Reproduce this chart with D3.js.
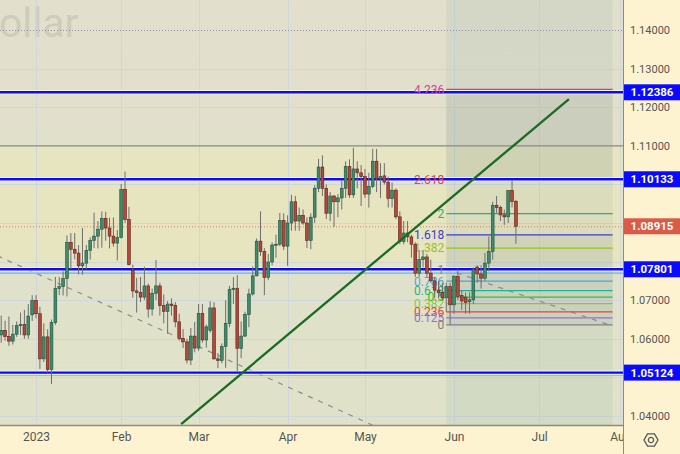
<!DOCTYPE html>
<html>
<head>
<meta charset="utf-8">
<script src="https://cdn.jsdelivr.net/npm/d3@7"></script>
<style>
body{margin:0;background:#fdf3d0;}
svg{display:block;font-family:Roboto,"Liberation Sans",sans-serif;}
</style>
</head>
<body>
<div id="chart"></div>
<script>
// EUR/USD daily, 20 Dec 2022 .. 23 Jun 2023 (one bar per weekday)
var firstDay = "2022-12-20";
var opens = [
 1.0610,1.0622,1.0606,1.0594,1.0612,1.0634,1.0637,1.0610,1.0662,
 1.0699,1.0665,1.0548,1.0605,1.0520,1.0642,1.0730,1.0735,1.0756,1.0850,1.0832,1.0822,1.0789,1.0796,1.0829,1.0855,1.0866,1.0884,1.0912,1.0887,1.0866,1.0848,
 1.0862,1.0987,1.0909,1.0778,1.0724,1.0720,1.0708,1.0737,1.0677,1.0718,1.0737,1.0686,1.0671,1.0690,1.0686,1.0644,1.0601,1.0592,1.0545,1.0607,
 1.0576,1.0666,1.0597,1.0622,1.0680,1.0548,1.0544,1.0580,1.0640,1.0728,1.0731,1.0575,1.0607,1.0663,1.0716,1.0763,1.0853,1.0826,1.0759,1.0799,1.0843,1.0845,1.0906,
 1.0840,1.0900,1.0955,1.0905,1.0920,1.0900,1.0855,1.0915,1.0990,1.1045,1.0990,1.0925,1.0970,1.0955,1.0965,1.0990,1.1046,1.0973,1.1040,1.1030,
 1.1020,1.0975,1.0995,1.1060,1.1015,1.1022,1.1006,1.0963,1.0985,1.0916,1.0852,1.0874,1.0864,1.0845,1.0770,1.0805,1.0812,1.0770,1.0750,1.0726,1.0720,1.0706,1.0735,
 1.0688,1.0761,1.0712,1.0708,1.0696,1.0701,1.0786,1.0768,1.0757,1.0796,1.0826,1.0946,1.0940,1.0921,1.0916,1.0984,1.0956];
var highs = [
 1.0660,1.0647,1.0658,1.0636,1.0645,1.0668,1.0675,1.0690,1.0713,
 1.0713,1.0683,1.0640,1.0625,1.0650,1.0760,1.0760,1.0775,1.0868,1.0874,1.0874,1.0843,1.0887,1.0843,1.0863,1.0927,1.0905,1.0930,1.0929,1.0914,1.0914,1.0882,
 1.1001,1.1033,1.0942,1.0792,1.0758,1.0760,1.0787,1.0743,1.0730,1.0804,1.0745,1.0715,1.0698,1.0705,1.0695,1.0665,1.0625,1.0600,1.0628,1.0644,
 1.0690,1.0690,1.0637,1.0697,1.0695,1.0563,1.0588,1.0700,1.0737,1.0760,1.0765,1.0645,1.0670,1.0730,1.0787,1.0860,1.0930,1.0835,1.0820,1.0850,1.0870,1.0926,1.0925,
 1.0920,1.0973,1.0970,1.0940,1.0935,1.0915,1.0925,1.0998,1.1066,1.1075,1.1000,1.0980,1.0972,1.0975,1.1010,1.1060,1.1065,1.1095,1.1060,1.1050,
 1.1040,1.1030,1.1092,1.1092,1.1055,1.1055,1.1020,1.1005,1.0990,1.0930,1.0905,1.0905,1.0870,1.0850,1.0830,1.0830,1.0820,1.0805,1.0760,1.0750,1.0745,1.0745,1.0745,
 1.0765,1.0780,1.0725,1.0720,1.0720,1.0785,1.0790,1.0790,1.0823,1.0865,1.0955,1.0970,1.0945,1.0935,1.0985,1.1011,1.0960];
var lows = [
 1.0590,1.0595,1.0582,1.0585,1.0605,1.0610,1.0600,1.0600,1.0646,
 1.0653,1.0522,1.0540,1.0512,1.0483,1.0636,1.0713,1.0712,1.0710,1.0780,1.0806,1.0767,1.0766,1.0780,1.0805,1.0835,1.0834,1.0836,1.0854,1.0834,1.0839,1.0803,
 1.0860,1.0900,1.0790,1.0706,1.0668,1.0695,1.0700,1.0655,1.0660,1.0700,1.0660,1.0640,1.0613,1.0660,1.0630,1.0595,1.0576,1.0536,1.0532,1.0565,
 1.0569,1.0590,1.0577,1.0616,1.0546,1.0524,1.0537,1.0525,1.0630,1.0690,1.0516,1.0550,1.0605,1.0630,1.0712,1.0762,1.0815,1.0713,1.0752,1.0790,1.0810,1.0840,1.0830,
 1.0789,1.0880,1.0880,1.0880,1.0895,1.0835,1.0832,1.0900,1.0980,1.0970,1.0910,1.0905,1.0890,1.0915,1.0935,1.0965,1.0965,1.0965,1.0990,1.0944,
 1.0965,1.0940,1.0990,1.0980,1.0965,1.1000,1.0940,1.0940,1.0910,1.0845,1.0845,1.0850,1.0810,1.0760,1.0760,1.0785,1.0760,1.0745,1.0705,1.0705,1.0700,1.0670,1.0636,
 1.0665,1.0700,1.0675,1.0665,1.0665,1.0690,1.0745,1.0730,1.0750,1.0775,1.0805,1.0925,1.0905,1.0895,1.0900,1.0940,1.0846];
var closes = [
 1.0622,1.0606,1.0594,1.0612,1.0634,1.0637,1.0610,1.0659,1.0699,
 1.0665,1.0548,1.0605,1.0520,1.0642,1.0730,1.0735,1.0756,1.0850,1.0832,1.0822,1.0789,1.0796,1.0829,1.0855,1.0866,1.0884,1.0912,1.0887,1.0866,1.0848,1.0862,
 1.0987,1.0909,1.0792,1.0724,1.0720,1.0708,1.0737,1.0677,1.0718,1.0737,1.0686,1.0671,1.0690,1.0686,1.0644,1.0601,1.0592,1.0545,1.0607,1.0576,
 1.0666,1.0597,1.0631,1.0680,1.0548,1.0544,1.0580,1.0640,1.0728,1.0731,1.0575,1.0607,1.0663,1.0716,1.0763,1.0853,1.0826,1.0759,1.0799,1.0843,1.0845,1.0906,1.0840,
 1.0900,1.0955,1.0905,1.0920,1.0900,1.0855,1.0915,1.0990,1.1045,1.0990,1.0925,1.0970,1.0955,1.0965,1.0990,1.1046,1.0973,1.1040,1.1030,1.1020,
 1.0975,1.0995,1.1060,1.1015,1.1020,1.1006,1.0963,1.0985,1.0916,1.0852,1.0874,1.0864,1.0845,1.0770,1.0805,1.0812,1.0770,1.0750,1.0726,1.0720,1.0706,1.0735,1.0688,
 1.0761,1.0710,1.0698,1.0694,1.0701,1.0780,1.0768,1.0757,1.0796,1.0826,1.0946,1.0940,1.0921,1.0916,1.0984,1.0956,1.08915];

var priceTicks = [1.04,1.05,1.06,1.07,1.08,1.09,1.10,1.11,1.12,1.13,1.14];
var monthLabels = ["2023","Feb","Mar","Apr","May","Jun","Jul","Aug"];
var monthDates  = ["2023-01-02","2023-02-01","2023-03-01","2023-04-03","2023-05-01","2023-06-01","2023-07-03","2023-08-01"];

var blueLevels = [1.12386, 1.10133, 1.07801, 1.05124];
var thinLevels = [{p:1.0770, c:"#62b6e0"}, {p:1.0505, c:"#7fd6a0"}];
var greyLevel = 1.11;
var dottedLevel = 1.14;

// drawings: [bar index, price]
var trendGreen = [[46.5, 1.0379], [146.7, 1.1221]];
var dashA = [[-1, 1.0815], [96, 1.0376]];
var dashB = [[115, 1.0780], [158, 1.0633]];

var fibLow = 1.0636, fibHigh = 1.07801, fibFrom = 115, fibTo = 158;
var fibRatios = [4.236, 2.618, 2, 1.618, 1.382, 1, 0.786, 0.618, 0.5, 0.382, 0.236, 0.125, 0];
var fibColors = ["#d63d9a","#e8453c","#22b08e","#3b3bd6","#98c21f","#808080","#49a6e0","#1fb58f","#2ec42e","#8fc43a","#e8453c","#9370d8","#808080"];

var width = 680, height = 454, plotW = 623, plotH = 425;

var svg = d3.select("#chart").append("svg").attr("width", width).attr("height", height);
var defs = svg.append("defs");
defs.append("clipPath").attr("id","plotclip").append("rect").attr("width",plotW).attr("height",plotH);
var grad = defs.append("linearGradient").attr("id","bg").attr("x1",0).attr("y1",0).attr("x2",0).attr("y2",1);
grad.append("stop").attr("offset","0%").attr("stop-color","#e2dfcc");
grad.append("stop").attr("offset","100%").attr("stop-color","#dfe2c9");

var parse = d3.timeParse("%Y-%m-%d");
var start = parse(firstDay);
function barIndex(s){
    return d3.timeDay.range(start, parse(s)).filter(function(d){ return d.getDay()%6 !== 0; }).length;
}

var x = d3.scaleLinear().domain([-0.31, 160.67]).range([0, plotW]);
var y = d3.scaleLinear().domain([1.04, 1.14]).range([416, 30]);

var plot = svg.append("g").attr("clip-path","url(#plotclip)");
plot.append("rect").attr("width",plotW).attr("height",plotH).attr("fill","url(#bg)");
plot.append("rect").attr("x",0).attr("width",plotW)
    .attr("y", y(greyLevel)).attr("height", y(blueLevels[2]) - y(greyLevel))
    .attr("fill","#fff0a0").attr("opacity",0.22);

// watermark
plot.append("text").attr("x",-28).attr("y",37).text("Dollar")
    .attr("font-size",41).attr("fill","#8d8a7a").attr("opacity",0.22);

// grid
plot.append("g").selectAll("line").data(priceTicks.filter(function(p){ return p!==dottedLevel && p!==greyLevel; })).enter()
    .append("line").attr("x1",0).attr("x2",plotW)
    .attr("y1",function(d){ return Math.round(y(d))+0.5; }).attr("y2",function(d){ return Math.round(y(d))+0.5; })
    .attr("stroke","#cfd6dc").attr("stroke-width",1);
plot.append("g").selectAll("line").data(monthDates).enter()
    .append("line").attr("y1",0).attr("y2",plotH)
    .attr("x1",function(d){ return Math.round(x(barIndex(d)))+0.5; }).attr("x2",function(d){ return Math.round(x(barIndex(d)))+0.5; })
    .attr("stroke","#cfd6dc").attr("stroke-width",1);

// fib zone shading
var fx0 = x(fibFrom), fx1 = x(fibTo);
function fibP(r){ return fibLow + r*(fibHigh-fibLow); }
plot.append("rect").attr("x",fx0).attr("y",0).attr("width",fx1-fx0).attr("height",plotH)
    .attr("fill","#7fa79a").attr("opacity",0.12);
plot.append("rect").attr("x",fx0).attr("width",fx1-fx0)
    .attr("y",y(fibP(4.236))).attr("height",y(fibP(2.618))-y(fibP(4.236)))
    .attr("fill","#8a8a80").attr("opacity",0.12);
plot.append("rect").attr("x",fx0).attr("width",fx1-fx0)
    .attr("y",y(fibP(1.618))).attr("height",y(fibP(0))-y(fibP(1.618)))
    .attr("fill","#8a8a90").attr("opacity",0.10);

// horizontal levels
plot.append("line").attr("x1",0).attr("x2",plotW).attr("y1",y(greyLevel)).attr("y2",y(greyLevel))
    .attr("stroke","#8a8a82").attr("stroke-width",1.2);
plot.append("line").attr("x1",0).attr("x2",plotW).attr("y1",y(dottedLevel)+0.5).attr("y2",y(dottedLevel)+0.5)
    .attr("stroke","#8890a8").attr("stroke-width",1).attr("stroke-dasharray","1,2");
thinLevels.forEach(function(t){
    plot.append("line").attr("x1",0).attr("x2",plotW).attr("y1",y(t.p)).attr("y2",y(t.p))
        .attr("stroke",t.c).attr("stroke-width",1.3);
});

// dashed grey lines
var line = d3.line().x(function(d){ return x(d[0]); }).y(function(d){ return y(d[1]); });
[dashA, dashB].forEach(function(d){
    plot.append("path").attr("d", line(d)).attr("fill","none")
        .attr("stroke","#8d8d8d").attr("stroke-width",1.2).attr("stroke-dasharray","5,6");
});

// fib levels
fibRatios.forEach(function(r,i){
    var yy = y(fibP(r));
    plot.append("line").attr("x1",fx0).attr("x2",fx1).attr("y1",yy).attr("y2",yy)
        .attr("stroke",fibColors[i]).attr("stroke-width",1.2);
});

// blue lines
blueLevels.forEach(function(p){
    plot.append("line").attr("x1",0).attr("x2",plotW).attr("y1",y(p)).attr("y2",y(p))
        .attr("stroke","#fffbe0").attr("stroke-width",4.5).attr("opacity",0.7);
    plot.append("line").attr("x1",0).attr("x2",plotW).attr("y1",y(p)).attr("y2",y(p))
        .attr("stroke","#0a0aff").attr("stroke-width",2.4);
});

// last price dotted
var last = closes[closes.length-1];
plot.append("line").attr("x1",0).attr("x2",plotW).attr("y1",y(last)+0.5).attr("y2",y(last)+0.5)
    .attr("stroke","#e07a66").attr("stroke-width",1).attr("stroke-dasharray","1,2");

fibRatios.forEach(function(r,i){
    plot.append("text").attr("x",fx0-2).attr("y",y(fibP(r))).attr("dy","0.36em")
        .attr("text-anchor","end").attr("font-size",12).attr("fill",fibColors[i]).text(String(r));
});

// candles
var candles = plot.append("g");
var bw = 2.8;
closes.forEach(function(c,i){
    var o = opens[i], up = c >= o;
    var cx = x(i);
    candles.append("line").attr("x1",cx).attr("x2",cx).attr("y1",y(highs[i])).attr("y2",y(lows[i]))
        .attr("stroke","#6e6e6e").attr("stroke-width",1);
    var top = y(Math.max(o,c)), bot = y(Math.min(o,c));
    candles.append("rect").attr("x",cx-bw/2).attr("y",top).attr("width",bw).attr("height",Math.max(1,bot-top))
        .attr("fill", up ? "#3d8c6c" : "#b4473a")
        .attr("stroke", up ? "#22503d" : "#5c2218").attr("stroke-width",0.6);
});

// green trend line
plot.append("path").attr("d", line(trendGreen)).attr("fill","none")
    .attr("stroke","#1c6b22").attr("stroke-width",2.3);

// axes panels
svg.append("rect").attr("x",plotW).attr("y",0).attr("width",width-plotW).attr("height",height).attr("fill","#fdf3d0");
svg.append("rect").attr("x",0).attr("y",plotH).attr("width",width).attr("height",height-plotH).attr("fill","#fdf3d0");
svg.append("line").attr("x1",plotW+0.5).attr("x2",plotW+0.5).attr("y1",0).attr("y2",height).attr("stroke","#8b8b80");
svg.append("line").attr("x1",0).attr("x2",plotW).attr("y1",plotH+0.5).attr("y2",plotH+0.5).attr("stroke","#8b8b80").attr("stroke-width",1.5);

// price axis (labels hidden where a price box covers them)
var boxes = blueLevels.map(function(p){ return {p:p, c:"#0a0aff"}; });
boxes.push({p:last, c:"#dc5a48"});
var freeTicks = priceTicks.filter(function(t){
    return boxes.every(function(b){ return Math.abs(y(t)-y(b.p)) > 12; });
});
var yAxis = d3.axisRight(y).tickValues(freeTicks).tickFormat(d3.format(".5f")).tickSize(0).tickPadding(0);
var yg = svg.append("g").attr("transform","translate("+(plotW+7)+",0)").call(yAxis);
yg.select(".domain").remove();
yg.selectAll("text").attr("font-size",11).attr("fill","#555").attr("font-family","Roboto,sans-serif");

// time axis
var xAxis = d3.axisBottom(x).tickValues(monthDates.map(barIndex))
    .tickFormat(function(d,i){ return monthLabels[i]; }).tickSize(0).tickPadding(0);
var xg = svg.append("g").attr("transform","translate(0,"+(plotH+9)+")").call(xAxis);
xg.select(".domain").remove();
xg.selectAll("text").attr("font-size",12).attr("fill","#555").attr("font-family","Roboto,sans-serif").attr("dy","0.6em");
svg.append("rect").attr("x",plotW+1).attr("y",plotH+1).attr("width",width-plotW).attr("height",height-plotH).attr("fill","#fdf3d0");
svg.append("line").attr("x1",plotW+0.5).attr("x2",plotW+0.5).attr("y1",plotH).attr("y2",height).attr("stroke","#8b8b80");

// price boxes
boxes.forEach(function(b){
    var g = svg.append("g").attr("transform","translate("+plotW+","+y(b.p)+")");
    g.append("rect").attr("x",1).attr("y",-8).attr("width",width-plotW-1).attr("height",16).attr("fill",b.c);
    g.append("text").attr("x",29).attr("y",0).attr("dy","0.36em").attr("text-anchor","middle")
        .attr("font-size",11.5).attr("font-weight","bold").attr("fill","#fff").text(d3.format(".5f")(b.p));
});

// settings gear
var gear = svg.append("g").attr("transform","translate(651,440)");
var hex = d3.range(6).map(function(k){ var a = Math.PI/3*k; return [7*Math.cos(a), 7*Math.sin(a)]; });
gear.append("path").attr("d","M"+hex.join("L")+"Z").attr("fill","none").attr("stroke","#555").attr("stroke-width",1.3);
gear.append("circle").attr("r",2.6).attr("fill","none").attr("stroke","#555").attr("stroke-width",1.3);
</script>
</body>
</html>
